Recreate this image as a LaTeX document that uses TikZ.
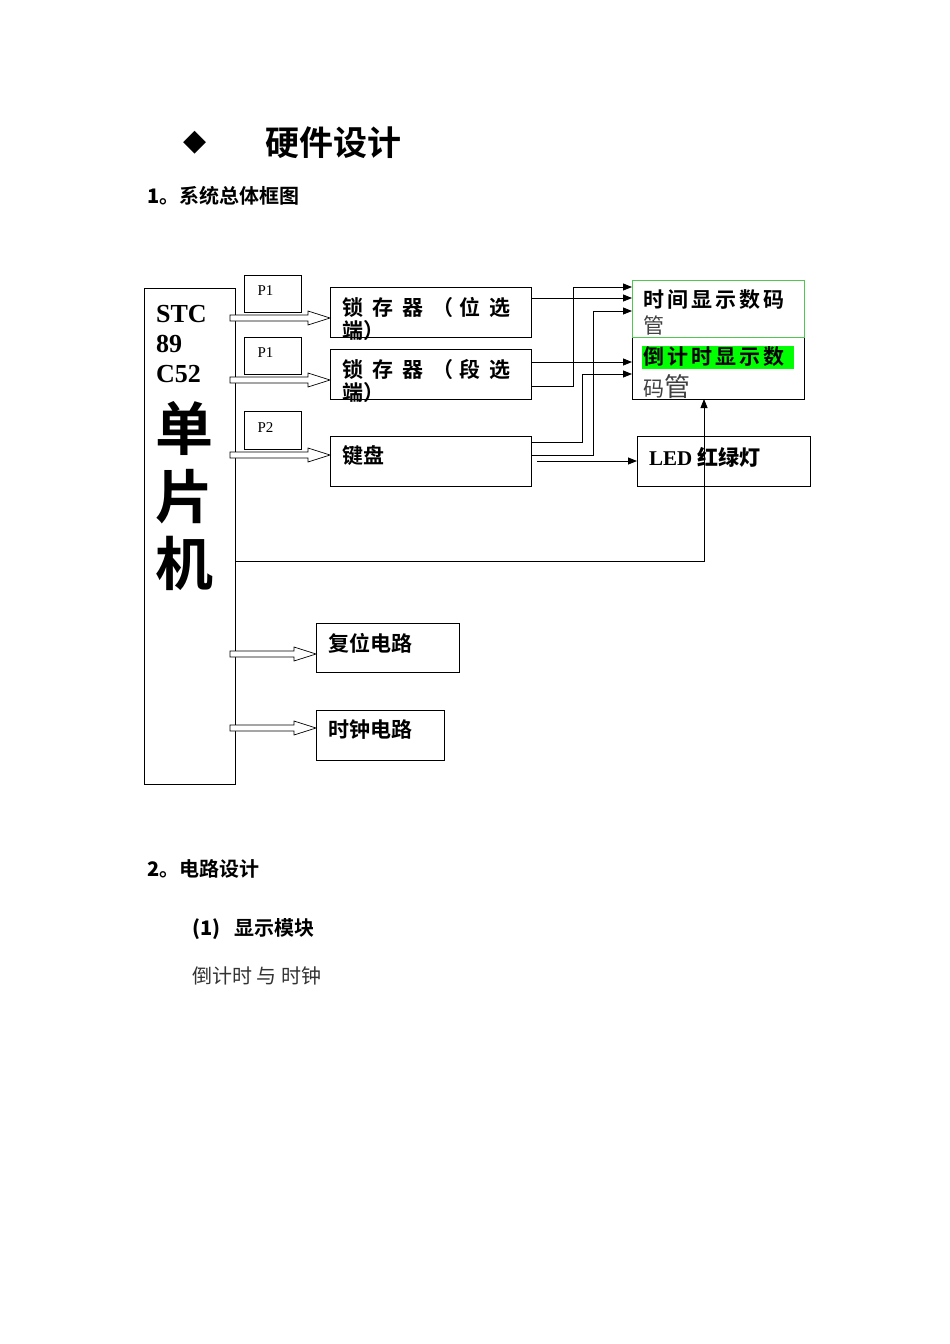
\documentclass[tikz,border=0pt]{standalone}
\usepackage{fontspec}
\setmainfont{Liberation Serif}
\newfontfamily\cjk{Noto Sans CJK SC}
\newfontfamily\cjkb{Noto Sans CJK SC Bold}
\newfontfamily\dejavu{DejaVu Sans}
\usetikzlibrary{arrows.meta}
\definecolor{brightgreen}{RGB}{0,255,0}
\definecolor{boxgreen}{RGB}{80,200,80}
\tikzset{
  blk/.style={draw,line width=0.8pt,inner sep=0pt},
  wire/.style={line width=0.8pt},
  arr/.style={wire,-{Triangle[length=9pt,width=7pt]}},
  lbl/.style={anchor=west,inner sep=0pt,font=\cjkb\fontsize{21}{21}\selectfont},
  hol/.style={draw,line width=0.7pt,fill=white}
}
\newcommand{\harrow}[3]{\draw[hol] (#1,#3-3) -- (#2-22,#3-3) -- (#2-22,#3-7) -- (#2,#3) -- (#2-22,#3+7) -- (#2-22,#3+3) -- (#1,#3+3) -- cycle;}
\begin{document}
\begin{tikzpicture}[x=1pt,y=-1pt]
\useasboundingbox (0,0) rectangle (950,1344);
% headings
\node[anchor=center,font=\dejavu\fontsize{30}{30}\selectfont] (dia) at (195,143) {◆};
\node[anchor=west,font=\cjkb\fontsize{34}{34}\selectfont] (title) at (262,143) {硬件设计};
\node[anchor=west,font=\cjkb\fontsize{20}{20}\selectfont] (h1) at (144,196) {{\bfseries 1}。系统总体框图};
\node[anchor=west,font=\cjkb\fontsize{20}{20}\selectfont] (h2) at (144,869) {{\bfseries 2}。电路设计};
\node[anchor=west,font=\cjkb\fontsize{20}{20}\selectfont] (h3) at (189,929) {{\bfseries (1)}\hspace{14pt}显示模块};
\node[anchor=west,font=\cjk\fontsize{20}{20}\selectfont,text=black!80] (h4) at (189,976) {倒计时 与 时钟};
% MCU
\draw[blk] (144,288) rectangle (235,784);
\node[anchor=west,font=\bfseries\fontsize{26}{30}\selectfont,align=left,inner sep=0pt] (mcu) at (156,344) {STC\\89\\C52};
\node[font=\cjkb\fontsize{58}{58}\selectfont,inner sep=0pt] (c1) at (184,428) {单};
\node[font=\cjkb\fontsize{58}{58}\selectfont,inner sep=0pt] (c2) at (184,497) {片};
\node[font=\cjkb\fontsize{58}{58}\selectfont,inner sep=0pt] (c3) at (184,563) {机};
% port boxes
\draw[blk] (244,275) rectangle (301,312); \node[anchor=west,font=\fontsize{15}{15}\selectfont] (p1) at (254,291) {P1};
\draw[blk] (244,337) rectangle (301,374); \node[anchor=west,font=\fontsize{15}{15}\selectfont] (p1b) at (254,353) {P1};
\draw[blk] (244,411) rectangle (301,449); \node[anchor=west,font=\fontsize{15}{15}\selectfont] (p2) at (254,428) {P2};
% latches
\draw[blk] (330,287) rectangle (531,337);
\node[lbl] (l1) at (342,307) {锁\hspace{9pt}存\hspace{9pt}器\hspace{9pt}（\hspace{6pt}位\hspace{9pt}选};
\node[lbl] (l1b) at (342,331) {端）};
\draw[blk] (330,349) rectangle (531,399);
\node[lbl] (l2) at (342,369) {锁\hspace{9pt}存\hspace{9pt}器\hspace{9pt}（\hspace{6pt}段\hspace{9pt}选};
\node[lbl] (l2b) at (342,393) {端）};
\draw[blk] (330,436) rectangle (531,486);
\node[lbl] (kb) at (342,456) {键盘};
\draw[blk] (316,623) rectangle (459,672);
\node[lbl] (rs) at (328,643) {复位电路};
\draw[blk] (316,710) rectangle (444,760);
\node[lbl] (ck) at (328,730) {时钟电路};
% displays
\draw[blk] (632,337) rectangle (804,399);
\fill[brightgreen] (642,346) rectangle (794,369);
\node[lbl] (d2) at (643,357) {倒\hspace{3pt}计\hspace{3pt}时\hspace{3pt}显\hspace{3pt}示\hspace{3pt}数};
\node[anchor=west,inner sep=0pt,font=\cjk\fontsize{21}{21}\selectfont,text=black!75] (d2b) at (643,387) {码\fontsize{26}{26}\selectfont 管};
\draw[blk,draw=boxgreen] (632,280) rectangle (804,337);
\node[lbl] (d1) at (643,300) {时\hspace{3pt}间\hspace{3pt}显\hspace{3pt}示\hspace{3pt}数\hspace{3pt}码};
\node[anchor=west,inner sep=0pt,font=\cjk\fontsize{21}{21}\selectfont,text=black!75] (d1b) at (643,325) {管};
\draw[blk] (637,436) rectangle (810,486);
\node[anchor=west,inner sep=0pt,font=\fontsize{21}{21}\selectfont] (led) at (649,457) {\bfseries LED {\cjkb 红绿灯}};
% hollow arrows
\harrow{230}{330}{318}
\harrow{230}{330}{380}
\harrow{230}{330}{455}
\harrow{230}{316}{654}
\harrow{230}{316}{728}
% wires
\draw[arr] (531,298) -- (632,298);
\draw[arr] (531,386) -- (573,386) -- (573,287) -- (632,287);
\draw[arr] (531,455) -- (593,455) -- (593,311) -- (632,311);
\draw[arr] (531,362) -- (632,362);
\draw[arr] (531,442) -- (582,442) -- (582,374) -- (632,374);
\draw[arr] (537,461) -- (637,461);
\draw[arr] (235,561) -- (704,561) -- (704,399);
\end{tikzpicture}
\end{document}
